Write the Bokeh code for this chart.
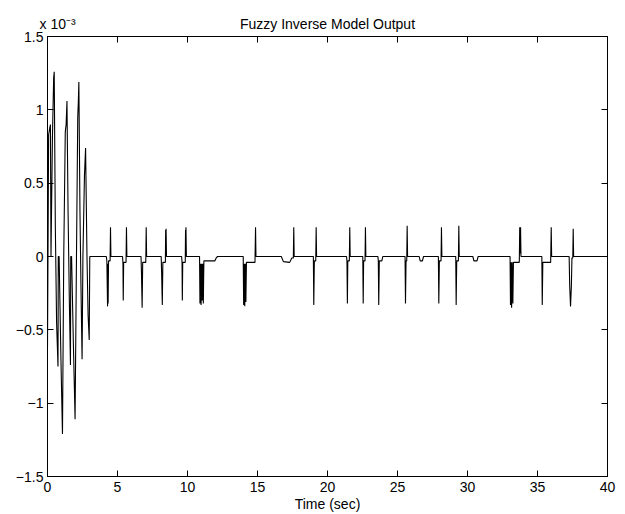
from bokeh.plotting import figure
from bokeh.models import FixedTicker, LinearAxis, CustomJSTickFormatter
from bokeh.embed import file_html
from bokeh.resources import INLINE

# ---- data (output in units of 1e-3) ----
osc_time = [0.00, 0.08, 0.17, 0.21, 0.25, 0.35, 0.44, 0.48, 0.56, 0.65, 0.75, 0.77, 0.83,
            0.96, 1.07, 1.16, 1.27, 1.33, 1.39, 1.47, 1.56, 1.64, 1.66, 1.72, 1.85, 1.97,
            2.07, 2.16, 2.20, 2.24, 2.32, 2.39, 2.47, 2.53, 2.64, 2.72, 2.82, 2.90, 2.98, 3.02]
osc_output = [-0.62, 0.83, 0.88, 0.90, 0.00, 0.80, 1.22, 1.26, 0.20, -0.45, -0.75, 0.00, 0.00,
              -0.70, -1.21, 0.00, 0.85, 0.90, 1.06, 0.30, -0.30, -0.74, 0.00, 0.00, -0.60, -1.11,
              0.00, 0.95, 1.05, 1.19, 0.30, -0.20, -0.70, 0.00, 0.55, 0.74, 0.00, -0.40, -0.57, 0.00]

pulse_time_a = [4.20, 4.24, 4.29, 4.31, 4.33, 4.36, 4.47, 4.50, 4.53,
                5.36, 5.39, 5.41, 5.44, 5.61, 5.64, 5.67,
                6.68, 6.71, 6.76, 6.80, 7.02, 7.05, 7.08,
                8.12, 8.15, 8.20, 8.24, 8.42, 8.44, 8.46, 8.47, 8.50,
                9.58, 9.61, 9.63, 9.66, 9.84, 9.86, 9.88, 9.89, 9.92,
                10.86, 10.89, 10.93, 10.97, 11.01, 11.05, 11.09, 11.13, 11.17, 11.95, 12.05, 12.15,
                13.98, 14.01, 14.05, 14.09, 14.13, 14.17, 14.21, 14.82, 14.86, 14.89,
                16.70, 16.85, 17.30, 17.45, 17.56, 17.59, 17.62,
                18.99, 19.02, 19.06, 19.16, 19.19, 19.22]
pulse_output_a = [0.00, -0.03, -0.34, -0.05, -0.32, -0.03, -0.03, 0.20, 0.00,
                  0.00, -0.05, -0.30, -0.04, -0.04, 0.20, 0.00,
                  0.00, -0.10, -0.35, -0.04, -0.04, 0.20, 0.00,
                  0.00, -0.10, -0.33, -0.04, -0.04, 0.18, 0.05, 0.19, 0.00,
                  0.00, -0.04, -0.30, -0.04, -0.04, 0.18, 0.05, 0.20, 0.00,
                  0.00, -0.32, -0.05, -0.33, -0.05, -0.30, -0.05, -0.32, -0.03, -0.03, -0.01, 0.00,
                  0.00, -0.33, -0.05, -0.34, -0.05, -0.31, -0.04, -0.04, 0.20, 0.00,
                  0.00, -0.035, -0.04, -0.01, -0.01, 0.20, 0.00,
                  0.00, -0.33, -0.03, -0.03, 0.20, 0.00]

pulse_time_b = [21.36, 21.39, 21.42, 21.45, 21.56, 21.59, 21.62,
                22.52, 22.55, 22.58, 22.68, 22.71, 22.74,
                23.60, 23.63, 23.66, 23.70, 23.88, 23.95,
                25.54, 25.57, 25.61, 25.66, 25.69, 25.72,
                26.55, 26.62, 26.78, 26.86,
                27.92, 27.95, 27.99, 28.11, 28.14, 28.17,
                29.16, 29.19, 29.23, 29.35, 29.38, 29.41,
                30.38, 30.46, 30.68, 30.76,
                33.04, 33.07, 33.11, 33.15, 33.19, 33.24, 33.28, 33.70, 33.73, 33.76, 33.79, 33.82,
                35.31, 35.34, 35.38, 35.94, 35.98, 36.01,
                37.26, 37.30, 37.36, 37.42, 37.46, 37.52, 37.55, 37.58,
                40.00]
pulse_output_b = [0.00, -0.03, -0.32, -0.03, -0.03, 0.20, 0.00,
                  0.00, -0.32, -0.03, -0.03, 0.20, 0.00,
                  0.00, -0.03, -0.33, -0.03, -0.03, 0.00,
                  0.00, -0.32, -0.03, -0.03, 0.21, 0.00,
                  0.00, -0.03, -0.03, 0.00,
                  0.00, -0.32, -0.03, -0.03, 0.20, 0.00,
                  0.00, -0.33, -0.03, -0.03, 0.21, 0.00,
                  0.00, -0.03, -0.03, 0.00,
                  0.00, -0.33, -0.04, -0.35, -0.04, -0.32, -0.04, -0.04, 0.20, 0.02, 0.20, 0.00,
                  0.00, -0.33, -0.04, -0.04, 0.20, 0.00,
                  0.00, -0.20, -0.34, -0.20, -0.01, -0.01, 0.19, 0.00,
                  0.00]

x_ticks = [0, 5, 10, 15, 20, 25, 30, 35, 40]
y_ticks = [-1.5, -1.0, -0.5, 0.0, 0.5, 1.0, 1.5]
y_tick_labels = ["\u22121.5", "\u22121", "\u22120.5", "0", "0.5", "1", "1.5"]

title_text = "Fuzzy Inverse Model Output"
exponent_text = "x 10\u207b\u00b3"
xlabel_text = "Time (sec)"
title_pos = 20
exponent_pos = 0.72

time_all = osc_time + pulse_time_a + pulse_time_b
output_all = osc_output + pulse_output_a + pulse_output_b

FONT = "Liberation Sans"

p = figure(width=625, height=514, x_range=(0, 40), y_range=(-1.5, 1.5),
           output_backend="svg", toolbar_location=None,
           min_border_left=47, min_border_right=18, min_border_top=36, min_border_bottom=37,
           x_axis_location=None, y_axis_location=None)
p.background_fill_color = "white"
p.border_fill_color = "white"
p.outline_line_color = "black"
p.outline_line_width = 1
p.xgrid.visible = False
p.ygrid.visible = False

def style_axis(ax):
    ax.axis_line_color = "black"
    ax.major_tick_line_color = "black"
    ax.major_tick_in = 6
    ax.major_tick_out = 0
    ax.minor_tick_line_color = None
    ax.major_label_text_font = FONT
    ax.major_label_text_font_size = "14px"
    ax.major_label_text_color = "black"

bottom = LinearAxis(ticker=FixedTicker(ticks=x_ticks))
style_axis(bottom)
bottom.major_label_standoff = 5
bottom.axis_label = xlabel_text
bottom.axis_label_text_font = FONT
bottom.axis_label_text_font_size = "14px"
bottom.axis_label_text_font_style = "normal"
bottom.axis_label_text_color = "black"
bottom.axis_label_standoff = 1
p.add_layout(bottom, "below")

left = LinearAxis(ticker=FixedTicker(ticks=y_ticks))
style_axis(left)
left.major_label_standoff = 4
left.major_label_overrides = dict(zip(y_ticks, y_tick_labels))
p.add_layout(left, "left")

# top axis: tick marks as minor ticks, exponent and title as labels
top = LinearAxis(ticker=FixedTicker(ticks=[exponent_pos, title_pos], minor_ticks=x_ticks))
style_axis(top)
top.major_tick_line_color = None
top.minor_tick_line_color = "black"
top.minor_tick_in = 6
top.minor_tick_out = 0
top.major_label_standoff = 5
top.major_label_overrides = {exponent_pos: exponent_text, title_pos: title_text}
p.add_layout(top, "above")

right = LinearAxis(ticker=FixedTicker(ticks=y_ticks))
style_axis(right)
right.formatter = CustomJSTickFormatter(code="return ''")
right.major_label_standoff = 0
p.add_layout(right, "right")

p.line(time_all, output_all, line_color="black", line_width=1.1)

open("out.html", "w").write(file_html(p, INLINE))
